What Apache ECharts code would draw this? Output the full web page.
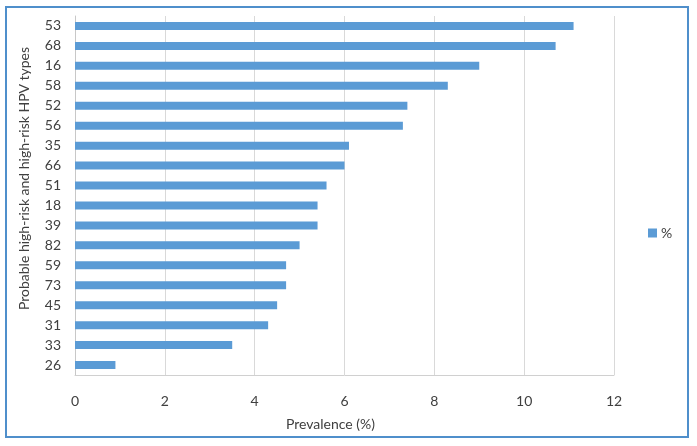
<!DOCTYPE html>
<html>
<head>
<meta charset="utf-8">
<script src="https://cdn.jsdelivr.net/npm/echarts@6/dist/echarts.min.js"></script>
<style>html,body{margin:0;padding:0;background:#fff}#c{width:697px;height:446px}</style>
</head>
<body>
<div id="c"></div>
<script>
const categories = ["53","68","16","58","52","56","35","66","51","18","39","82","59","73","45","31","33","26"];
const values = [11.1,10.7,9.0,8.3,7.4,7.3,6.1,6.0,5.6,5.4,5.4,5.0,4.7,4.7,4.5,4.3,3.5,0.9];
const seriesName = "%";
const xTicks = {min:0, max:12, interval:2};

const chart = echarts.init(document.getElementById('c'), null, {renderer:'canvas'});
const font = 'Lato, "Liberation Sans", sans-serif';
chart.setOption({
  animation:false,
  backgroundColor:'#fff',
  textStyle:{fontFamily:font},
  graphic:[{type:'rect', shape:{x:6,y:7,width:682,height:430}, style:{fill:'none', stroke:'#4f8fcb', lineWidth:2}, silent:true}],
  legend:{data:[seriesName], left:643, top:221, icon:'rect', itemWidth:9, itemHeight:9, itemGap:5,
    textStyle:{fontFamily:font, fontSize:14, color:'#404040', padding:[0,0,0,-1]}},
  grid:{left:75, right:83, top:16, bottom:71, containLabel:false},
  xAxis:{type:'value', min:xTicks.min, max:xTicks.max, interval:xTicks.interval,
    name:'Prevalence (%)', nameLocation:'middle', nameGap:42,
    nameTextStyle:{fontFamily:font, fontSize:14, color:'#404040', padding:[0,28,0,0]},
    axisLine:{show:true, onZero:false, lineStyle:{color:'#d0d0d0'}}, axisTick:{show:false},
    axisLabel:{fontFamily:font, fontSize:14, color:'#404040', margin:19},
    splitLine:{show:true, lineStyle:{color:'#d9d9d9', width:1}}},
  yAxis:{type:'category', data:categories, inverse:true,
    name:'Probable high-risk and high-risk HPV types', nameLocation:'middle', nameGap:44, nameRotate:90,
    nameTextStyle:{fontFamily:font, fontSize:14, color:'#404040', padding:[0,0,0,34]},
    axisLine:{show:true, lineStyle:{color:'#c8c8c8'}}, axisTick:{show:false},
    axisLabel:{fontFamily:font, fontSize:14, color:'#404040', margin:14}},
  series:[{name:seriesName, type:'bar', data:values, barWidth:8,
    itemStyle:{color:'#5b9bd5'}}]
});
</script>
</body>
</html>
